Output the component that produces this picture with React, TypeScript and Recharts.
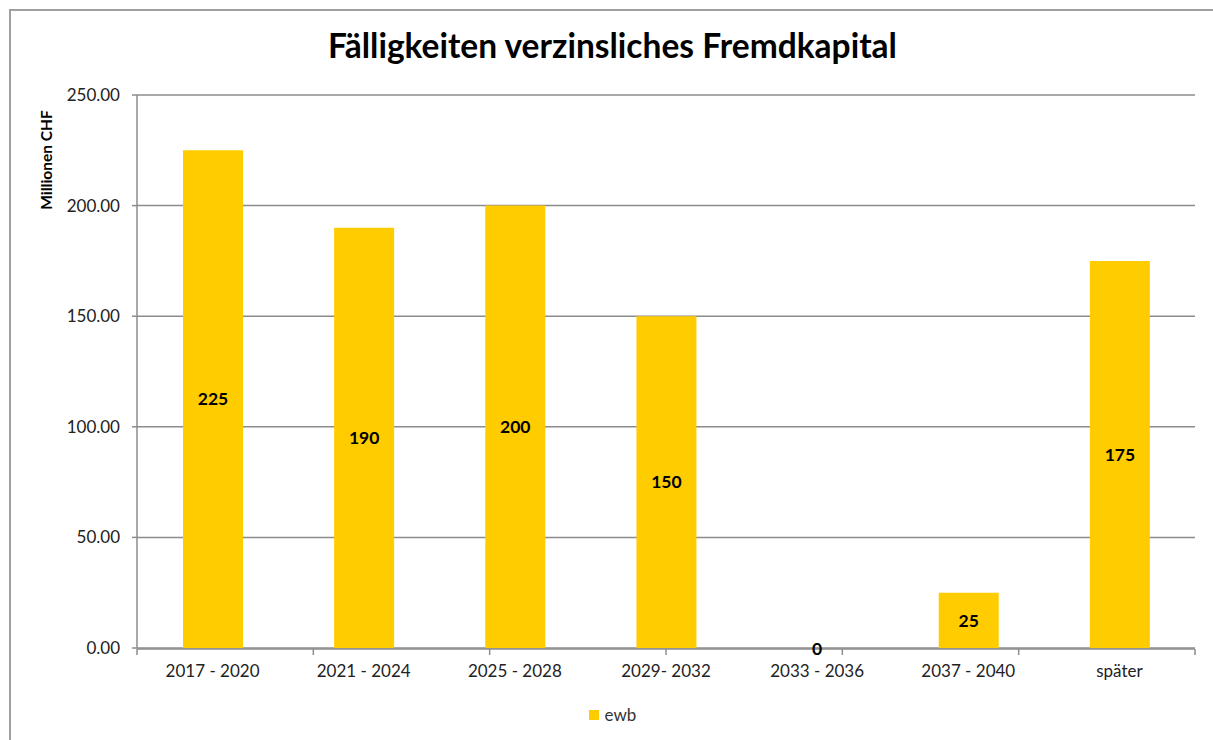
import React from 'react';
import { ComposedChart, Bar, Line, XAxis, YAxis, CartesianGrid, Legend, LabelList, Label } from 'recharts';

const categories = ['2017 - 2020', '2021 - 2024', '2025 - 2028', '2029- 2032', '2033 - 2036', '2037 - 2040', 'später'];
const ewbValues = [225, 190, 200, 150, 0, 25, 175];
const yTicks = [0, 50, 100, 150, 200, 250];
const boundaryTicks = [0, 1, 2, 3, 4, 5, 6, 7];

const data = categories.map((c, i) => ({ name: c, ewb: ewbValues[i] }));

const FONT = 'Lato, "Open Sans", sans-serif';
const AXIS = '#8c8c8c';

const LegendContent = () => (
  <div style={{ display: 'flex', justifyContent: 'center', alignItems: 'center', fontFamily: FONT, fontSize: 17, color: '#333' }}>
    <span style={{ display: 'inline-block', width: 10, height: 10, background: '#FFCC00', marginRight: 6 }} />
    <span>ewb</span>
  </div>
);

const ZeroLabel = (props: any) => {
  const { x, y, value } = props;
  if (value !== 0) return null;
  return (
    <text x={x} y={y} textAnchor="middle" dominantBaseline="central" fill="#000" fontSize={17.5} fontWeight={700} fontFamily={FONT}>
      {value}
    </text>
  );
};

const EmptyTick = () => <g />;

export default function App() {
  return (
    <div style={{ position: 'absolute', left: 0, top: 0, width: 1213, height: 740, background: '#fff', fontFamily: FONT }}>
      <div style={{ position: 'absolute', left: 9, top: 9, width: 1204, height: 731, borderTop: '2px solid #a0a0a0', borderLeft: '2px solid #a0a0a0', boxSizing: 'border-box' }} />
      <div style={{ position: 'absolute', left: 0, top: 25, width: 1225, textAlign: 'center', fontSize: 33.5, fontWeight: 700, color: '#000', fontFamily: FONT }}>
        Fälligkeiten verzinsliches Fremdkapital
      </div>
      <ComposedChart
        width={1213}
        height={740}
        data={data}
        margin={{ top: 95, right: 18, bottom: 52, left: 0 }}
        style={{ position: 'absolute', left: 0, top: 0 }}
      >
        <CartesianGrid vertical={false} stroke={AXIS} strokeWidth={1.5} />
        <XAxis
          dataKey="name"
          height={1}
          axisLine={false}
          tickLine={false}
          tickSize={0}
          tickMargin={17}
          tick={{ fill: '#222', fontSize: 17, fontFamily: FONT }}
          interval={0}
        />
        <XAxis
          xAxisId="b"
          type="number"
          domain={[0, 7]}
          ticks={boundaryTicks}
          interval={0}
          allowDataOverflow
          height={39}
          tick={EmptyTick}
          tickSize={6}
          tickLine={{ stroke: AXIS, strokeWidth: 1.5 }}
          axisLine={{ stroke: AXIS, strokeWidth: 1.5 }}
        />
        <YAxis
          width={137}
          domain={[0, 250]}
          ticks={yTicks}
          tickFormatter={(v: number) => v.toFixed(2)}
          tickSize={5}
          tickMargin={12}
          tick={{ fill: '#222', fontSize: 17, fontFamily: FONT }}
          axisLine={{ stroke: AXIS, strokeWidth: 1.5 }}
          tickLine={{ stroke: AXIS, strokeWidth: 1.5 }}
        >
          <Label
            content={() => (
              <text x={46} y={160} transform="rotate(-90 46 160)" textAnchor="middle" dominantBaseline="central" fontFamily={FONT} fontSize={15.5} fontWeight={700} fill="#000">
                Millionen CHF
              </text>
            )}
          />
        </YAxis>
        <Legend
          layout="horizontal"
          verticalAlign="middle"
          align="center"
          content={LegendContent}
          wrapperStyle={{ top: 704, left: 0, width: 1225 }}
        />
        <Bar dataKey="ewb" fill="#FFCC00" barSize={60} isAnimationActive={false}>
          <LabelList dataKey="ewb" position="center" fill="#000" fontSize={17.5} fontWeight={700} fontFamily={FONT} />
        </Bar>
        <Line dataKey="ewb" stroke="none" dot={false} activeDot={false} legendType="none" isAnimationActive={false}>
          <LabelList dataKey="ewb" content={ZeroLabel} />
        </Line>
      </ComposedChart>
    </div>
  );
}
